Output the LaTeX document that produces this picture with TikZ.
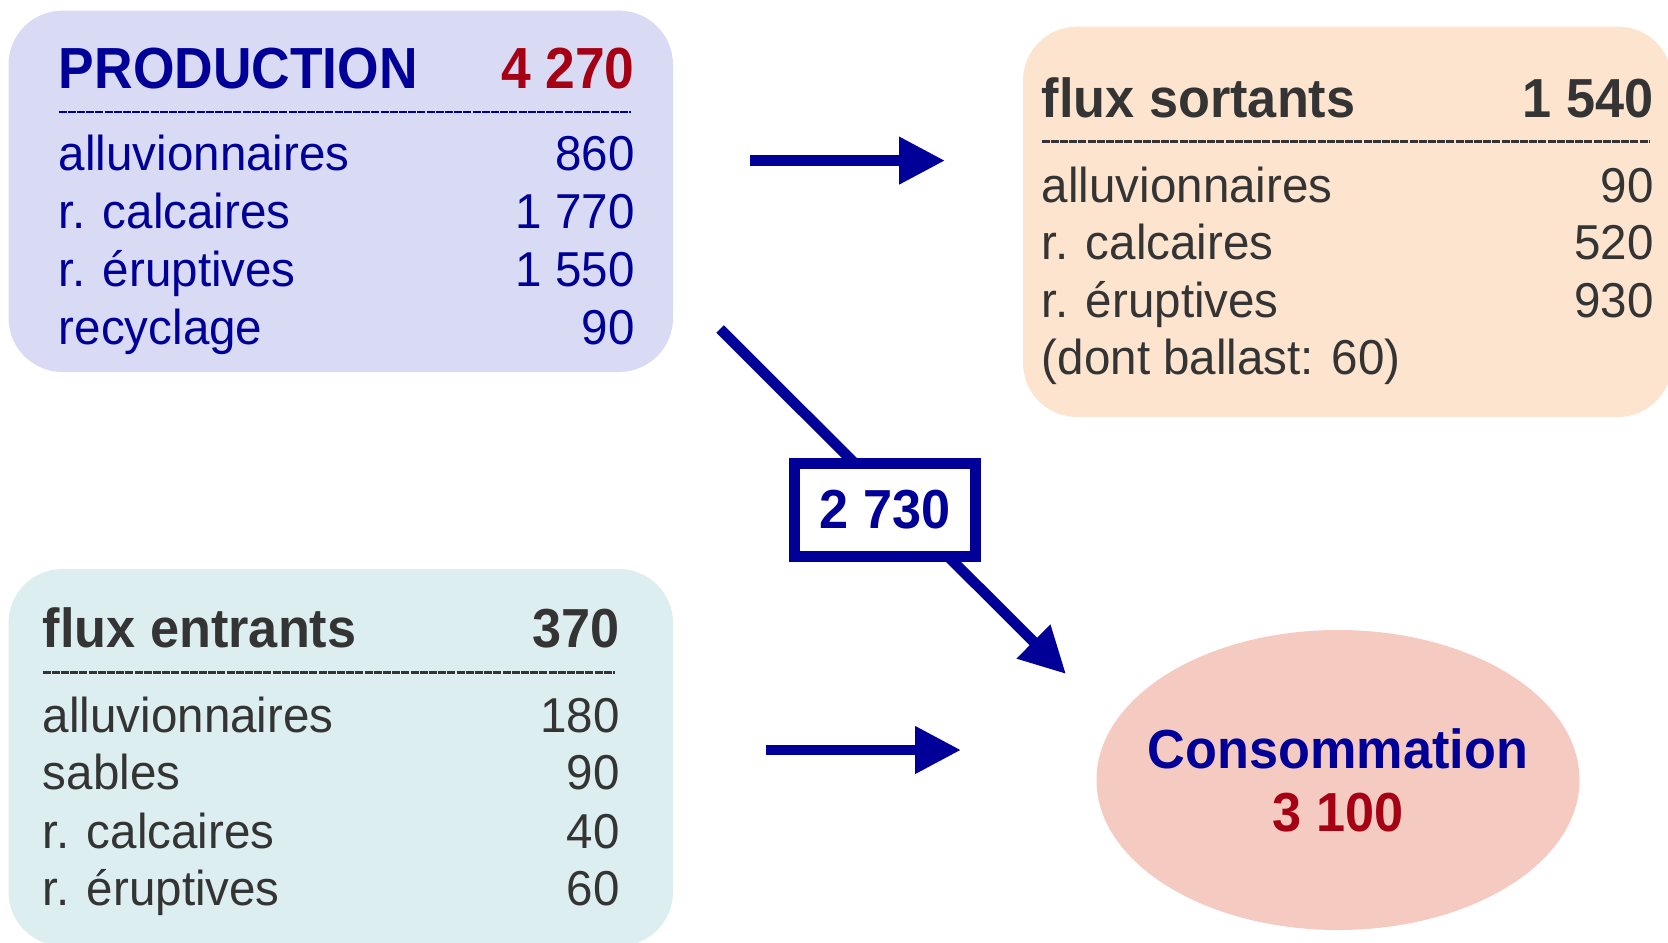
\documentclass[tikz,border=0pt]{standalone}
\usepackage{fontspec}
\setmainfont{Liberation Sans}[FakeStretch=0.97]
\newfontfamily\bfont{Liberation Sans}[FakeStretch=0.95]
\newfontfamily\pfont{Liberation Sans}[FakeStretch=0.92]
\usetikzlibrary{arrows.meta,shapes.geometric}
\definecolor{navy}{RGB}{0,0,153}
\definecolor{dred}{RGB}{165,0,20}
\definecolor{dgray}{RGB}{52,52,52}
\definecolor{prodfill}{RGB}{217,218,244}
\definecolor{sortfill}{RGB}{253,228,207}
\definecolor{entrfill}{RGB}{221,238,240}
\definecolor{consfill}{RGB}{245,202,192}
\begin{document}
\begin{tikzpicture}[x=0.5pt,y=-0.5pt,
  box/.style={rectangle, rounded corners=27pt, inner sep=0pt, draw=none},
  body/.style={font=\fontsize{24.5}{29}\selectfont, inner sep=0pt},
  ttl/.style={font=\bfont\bfseries\fontsize{27.5}{33}\selectfont, inner sep=0pt},
  pttl/.style={font=\pfont\bfseries\fontsize{29}{35}\selectfont, inner sep=0pt},
  flow/.style={draw=navy, line width=5.3pt, -{Triangle[length=23pt,width=22.5pt]}},
  sepline/.style={line width=1.2pt, dash pattern=on 4pt off 0.6pt}]
\useasboundingbox (0,0) rectangle (1668,942);

% boxes
\node[box, fill=prodfill, minimum width=332.25pt, minimum height=180.7pt] (prod) at (340.75,191.3) {};
\node[box, fill=sortfill, minimum width=324.5pt, minimum height=195.2pt] (sort) at (1347.5,221.8) {};
\node[box, fill=entrfill, minimum width=332.25pt, minimum height=188.5pt] (entr) at (340.75,757.5) {};
\node[ellipse, fill=consfill, draw=none, minimum width=241.5pt, minimum height=150pt, inner sep=0pt] (cons) at (1338,780) {};

% PRODUCTION
\node[pttl, navy, anchor=base west] (pt) at (58.5,88.3) {PRODUCTION};
\node[pttl, dred, anchor=base east] (pv) at (635,88.3) {4 270};
\draw[sepline, navy] (58.5,111.7) -- (631,111.7);
\node[body, navy, anchor=base west] (p1) at (58.5,170) {alluvionnaires};
\node[body, navy, anchor=base east] (p1v) at (635,170) {860};
\node[body, navy, anchor=base west] (p2) at (58.5,228) {r. calcaires};
\node[body, navy, anchor=base east] (p2v) at (635,228) {1 770};
\node[body, navy, anchor=base west] (p3) at (58.5,286) {r. éruptives};
\node[body, navy, anchor=base east] (p3v) at (635,286) {1 550};
\node[body, navy, anchor=base west] (p4) at (58.5,344) {recyclage};
\node[body, navy, anchor=base east] (p4v) at (635,344) {90};

% flux sortants
\node[ttl, dgray, anchor=base west] (st) at (1041.5,117) {flux sortants};
\node[ttl, dgray, anchor=base east] (sv) at (1654,117) {1 540};
\draw[sepline, dgray] (1041.5,141.5) -- (1649,141.5);
\node[body, dgray, anchor=base west] (s1) at (1041.5,202) {alluvionnaires};
\node[body, dgray, anchor=base east] (s1v) at (1654,202) {90};
\node[body, dgray, anchor=base west] (s2) at (1041.5,259.5) {r. calcaires};
\node[body, dgray, anchor=base east] (s2v) at (1654,259.5) {520};
\node[body, dgray, anchor=base west] (s3) at (1041.5,317) {r. éruptives};
\node[body, dgray, anchor=base east] (s3v) at (1654,317) {930};
\node[body, dgray, anchor=base west] (s4) at (1041.5,374.5) {(dont ballast: 60)};

% flux entrants
\node[ttl, dgray, anchor=base west] (et) at (42.5,647) {flux entrants};
\node[ttl, dgray, anchor=base east] (ev) at (620,647) {370};
\draw[sepline, dgray] (42.5,672.3) -- (615,672.3);
\node[body, dgray, anchor=base west] (e1) at (42.5,732) {alluvionnaires};
\node[body, dgray, anchor=base east] (e1v) at (620,732) {180};
\node[body, dgray, anchor=base west] (e2) at (42.5,789.5) {sables};
\node[body, dgray, anchor=base east] (e2v) at (620,789.5) {90};
\node[body, dgray, anchor=base west] (e3) at (42.5,848) {r. calcaires};
\node[body, dgray, anchor=base east] (e3v) at (620,848) {40};
\node[body, dgray, anchor=base west] (e4) at (42.5,905) {r. éruptives};
\node[body, dgray, anchor=base east] (e4v) at (620,905) {60};

% Consommation
\node[ttl, navy, anchor=base] (cl) at (1338,768) {Consommation};
\node[ttl, dred, anchor=base] (cv) at (1338,831) {3 100};

% arrows
\coordinate (a1s) at (750,160.6);
\coordinate (a1e) at (945,160.6);
\coordinate (a2s) at (766,750);
\coordinate (a2e) at (961,750);
\coordinate (d1) at (720,329);
\coordinate (d2) at (1066,674);
\draw[flow] (a1s) -- (a1e);
\draw[flow] (a2s) -- (a2e);
\draw[flow] (d1) -- (d2);
\node[ttl, navy, draw=navy, fill=white, line width=5.5pt, minimum width=90.5pt, minimum height=46.25pt] (lab) at (885,510) {2 730};
\end{tikzpicture}
\end{document}
